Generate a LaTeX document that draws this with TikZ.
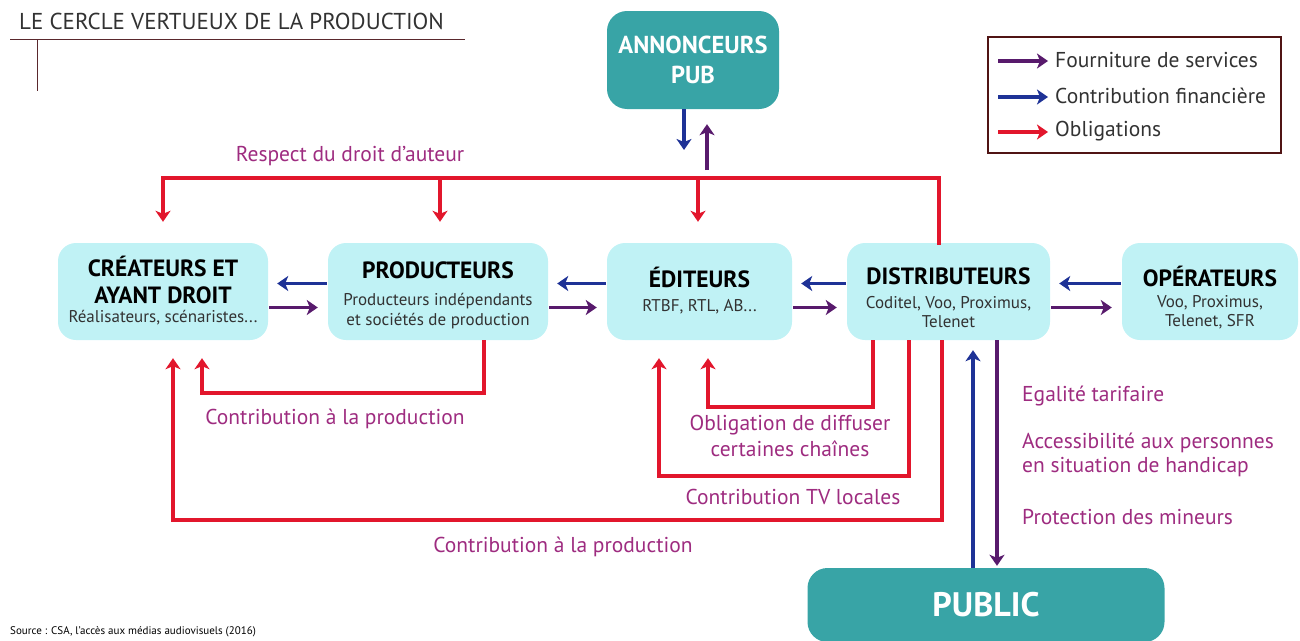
\documentclass[tikz,border=0pt]{standalone}
\usepackage{fontspec}
\setmainfont{PT Sans}
\usetikzlibrary{arrows.meta}
\definecolor{obred}{RGB}{226,22,44}
\definecolor{finblue}{RGB}{30,50,150}
\definecolor{servpurple}{RGB}{88,26,108}
\definecolor{lblmag}{RGB}{158,44,128}
\definecolor{boxcyan}{RGB}{192,242,245}
\definecolor{teal}{RGB}{56,164,166}
\definecolor{titlegrey}{RGB}{50,50,50}
\definecolor{rulebrown}{RGB}{90,40,45}
\definecolor{legborder}{RGB}{80,20,20}
\begin{document}
\begin{tikzpicture}[x=1pt,y=-1pt,
  actor/.style={fill=boxcyan, rounded corners=18pt, minimum height=97pt, align=center, inner sep=0pt},
  bigbox/.style={fill=teal, rounded corners=20pt, text=white, align=center, inner sep=0pt, font=\bfseries\fontsize{24.5}{30}\selectfont},
  ttl/.style={font=\bfseries\fontsize{23.5}{27}\selectfont},
  sub/.style={font=\fontsize{17}{19.5}\selectfont, text=titlegrey},
  lbl/.style={text=lblmag, font=\fontsize{21.5}{25.5}\selectfont, inner sep=0pt},
  tip/.style={-{Stealth[length=11pt,width=15pt,inset=3pt]}},
  obl/.style={draw=obred, line width=3.8pt, tip},
  oblline/.style={draw=obred, line width=3.8pt},
  fin/.style={draw=finblue, line width=3.8pt, tip},
  serv/.style={draw=servpurple, line width=3.8pt, tip},
  legtxt/.style={font=\fontsize{21.5}{24}\selectfont, anchor=west, inner sep=0pt, text=titlegrey}
]
\useasboundingbox (0,0) rectangle (1300,640);

% title
\node[anchor=west, inner sep=0pt, text=titlegrey, font=\fontsize{23}{26}\selectfont] (title) at (19,21) {LE CERCLE VERTUEUX DE LA PRODUCTION};
\coordinate (ruleL) at (10,39);
\coordinate (ruleR) at (465,39);
\coordinate (vtop) at (37,39);
\coordinate (vbot) at (37,91);
\draw[rulebrown, line width=1pt] (ruleL) -- (ruleR);
\draw[rulebrown, line width=1pt] (vtop) -- (vbot);

% big teal boxes
\node[bigbox, minimum width=172pt, minimum height=98pt] (ann) at (693,60) {ANNONCEURS\\PUB};
\node[bigbox, minimum width=357pt, minimum height=74pt, font=\bfseries\fontsize{34}{36}\selectfont] (pub) at (986,605) {PUBLIC};

% actor boxes
\node[actor, minimum width=210pt] (cre) at (163,291.5) {};
\node[ttl, align=center, inner sep=0pt] (creT) at (163,280) {CRÉATEURS ET\\AYANT DROIT};
\node[sub, inner sep=0pt] (creS) at (163,318) {Réalisateurs, scénaristes...};

\node[actor, minimum width=220pt] (prod) at (438,291.5) {};
\node[ttl, inner sep=0pt] (prodT) at (438,270) {PRODUCTEURS};
\node[sub, align=center, inner sep=0pt] (prodS) at (438,311) {Producteurs indépendants\\et sociétés de production};

\node[actor, minimum width=185pt] (edit) at (699.5,291.5) {};
\node[ttl, inner sep=0pt] (editT) at (699.5,277) {ÉDITEURS};
\node[sub, inner sep=0pt] (editS) at (699.5,307) {RTBF, RTL, AB...};

\node[actor, minimum width=203pt] (dist) at (948.5,291.5) {};
\node[ttl, inner sep=0pt] (distT) at (948.5,276) {DISTRIBUTEURS};
\node[sub, align=center, inner sep=0pt] (distS) at (948.5,312) {Coditel, Voo, Proximus,\\Telenet};

\node[actor, minimum width=176pt] (oper) at (1210,291.5) {};
\node[ttl, inner sep=0pt] (operT) at (1210,276) {OPÉRATEURS};
\node[sub, align=center, inner sep=0pt] (operS) at (1210,312) {Voo, Proximus,\\Telenet, SFR};

% legend
\node[draw=legborder, line width=1.3pt, minimum width=293pt, minimum height=116pt, inner sep=0pt] (legend) at (1134.5,95) {};
\coordinate (lg1a) at (998,61);  \coordinate (lg1b) at (1048,61);
\coordinate (lg2a) at (998,97);  \coordinate (lg2b) at (1048,97);
\coordinate (lg3a) at (998,132); \coordinate (lg3b) at (1048,132);
\draw[serv] (lg1a) -- (lg1b);
\draw[fin] (lg2a) -- (lg2b);
\draw[obl] (lg3a) -- (lg3b);
\node[legtxt] (lgt1) at (1055,60) {Fourniture de services};
\node[legtxt] (lgt2) at (1055,96) {Contribution financière};
\node[legtxt] (lgt3) at (1055,131) {Obligations};

% annonceurs arrows
\coordinate (annB) at (684,150);
\coordinate (annP) at (707,170);
\draw[fin] (ann.south -| annB) -- (annB);
\draw[serv, shorten >=15pt] (annP) -- (annP |- ann.south);

% top obligation bar
\coordinate (barL) at (163,178);
\coordinate (barP) at (440,178);
\coordinate (barE) at (698,178);
\coordinate (barR) at (939,178);
\draw[oblline, line cap=rect] (dist.north -| barR) -- (barR) -- (barL);
\draw[obl, shorten >=21pt] (barL) -- (cre.north);
\draw[obl, shorten >=21pt] (barP) -- (barP |- prod.north);
\draw[obl, shorten >=21pt] (barE) -- (barE |- edit.north);
\node[lbl] (lblDroit) at (350,156) {Respect du droit d’auteur};

% horizontal financial / service arrows
\foreach \l/\r in {cre/prod, prod/edit, edit/dist, dist/oper}{
  \draw[fin, shorten >=9pt, shorten <=1pt] ([yshift=8pt]\r.west) -- ([yshift=8pt]\l.east);
  \draw[serv, shorten >=10pt, shorten <=1pt] ([yshift=-16pt]\l.east) -- ([yshift=-16pt]\r.west);
}

% bottom obligation loops
\coordinate (p1) at (484,393);
\coordinate (p1e) at (202,393);
\draw[obl, shorten >=18pt] (p1 |- prod.south) -- (p1) -- (p1e) -- (p1e |- cre.south);
\node[lbl] (lblProd1) at (335,419) {Contribution à la production};

\coordinate (d1) at (873,407);
\coordinate (d1e) at (708,407);
\draw[obl, shorten >=18pt] (d1 |- dist.south) -- (d1) -- (d1e) -- (d1e |- edit.south);
\node[lbl, align=center] (lblDiff) at (790,436) {Obligation de diffuser\\certaines chaînes};

\coordinate (d2) at (909,476);
\coordinate (d2e) at (659,476);
\draw[obl, shorten >=18pt] (d2 |- dist.south) -- (d2) -- (d2e) -- (d2e |- edit.south);
\node[lbl] (lblTV) at (793,497) {Contribution TV locales};

\coordinate (d3) at (942,520);
\coordinate (d3e) at (173,520);
\draw[obl, shorten >=18pt] (d3 |- dist.south) -- (d3) -- (d3e) -- (d3e |- cre.south);
\node[lbl] (lblProd2) at (563,547) {Contribution à la production};

% public arrows
\coordinate (pubB) at (973,0);
\coordinate (pubP) at (997,0);
\draw[fin, shorten >=10pt] (pubB |- pub.north) -- (pubB |- dist.south);
\draw[serv, shorten >=2pt] (pubP |- dist.south) -- (pubP |- pub.north);

% public labels
\node[lbl, anchor=west] (lblEg) at (1022,396) {Egalité tarifaire};
\node[lbl, anchor=west, align=left, font=\fontsize{21.5}{24}\selectfont] (lblAcc) at (1022,455) {Accessibilité aux personnes\\en situation de handicap};
\node[lbl, anchor=west] (lblMin) at (1022,517) {Protection des mineurs};

% source
\node[anchor=west, inner sep=0pt, font=\fontsize{11}{13}\selectfont] (src) at (10,632) {Source : CSA, l’accès aux médias audiovisuels (2016)};
\end{tikzpicture}
\end{document}
